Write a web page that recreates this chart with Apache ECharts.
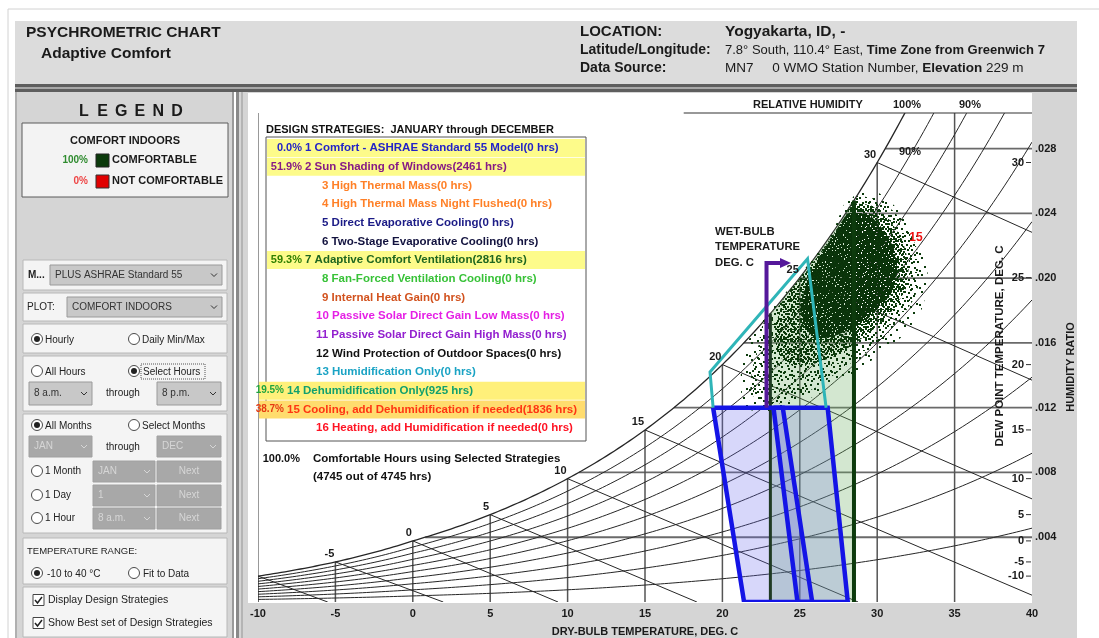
<!DOCTYPE html>
<html>
<head>
<meta charset="utf-8">
<title>Psychrometric Chart - Adaptive Comfort</title>
<script src="https://cdn.jsdelivr.net/npm/echarts/dist/echarts.min.js"></script>
<style>
  html, body { margin: 0; padding: 0; background: #ffffff; }
  #chart { width: 1099px; height: 638px; }
</style>
</head>
<body>
<div id="chart"></div>
<script>
// ---------------- chart values ----------------
const dryBulbTicks = [-10, -5, 0, 5, 10, 15, 20, 25, 30, 35, 40];
const humidityRatioTicks = [0.004, 0.008, 0.012, 0.016, 0.020, 0.024, 0.028];
const dewPointTicks = [30, 25, 20, 15, 10, 5, 0, -5, -10];
const rhCurves = [10, 20, 30, 40, 50, 60, 70, 80, 90, 100];
const wetBulbLines = [-10, -5, 0, 5, 10, 15, 20, 25, 30];
const wetBulbLabels = [-5, 0, 5, 10, 15, 20, 25, 30];

const strategyNames = [
  'Comfort - ASHRAE Standard 55 Model',
  'Sun Shading of Windows',
  'High Thermal Mass',
  'High Thermal Mass Night Flushed',
  'Direct Evaporative Cooling',
  'Two-Stage Evaporative Cooling',
  'Adaptive Comfort Ventilation',
  'Fan-Forced Ventilation Cooling',
  'Internal Heat Gain',
  'Passive Solar Direct Gain Low Mass',
  'Passive Solar Direct Gain High Mass',
  'Wind Protection of Outdoor Spaces',
  'Humidification Only',
  'Dehumidification Only',
  'Cooling, add Dehumidification if needed',
  'Heating, add Humidification if needed'
];
const strategyHours = [0, 2461, 0, 0, 0, 0, 2816, 0, 0, 0, 0, 0, 0, 925, 1836, 0];
const selectedStrategies = [1, 2, 7, 14, 15];
const totalHours = 4745;
const comfortableHours = 4745;
const comfortShares = [100, 0]; // comfortable / not comfortable, %

// zone outlines, [dry-bulb degC, humidity ratio kg/kg]
const comfortZoneA = [[19.4, 0.012], [23.9, 0.012], [25.8, 0], [21.4, 0]];
const comfortZoneB = [[23.3, 0.012], [26.8, 0.012], [28.1, 0], [24.85, 0]];
const dehumidZone = [[19.4, 0.012], [19.2, 0.0142], [25.5, 0.0212], [26.7, 0.012]];
const ventilationLimits = [23.1, 28.5];
const sunShadingArrow = [[22.85, 0.012], [22.85, 0.02093], [23.85, 0.02093]];

// hourly weather points: envelopes of the point cloud by density
const cloudFringe = [[28.3,0.02530],[30.0,0.02530],[31.6,0.02400],[32.9,0.02200],[33.3,0.01980],[32.8,0.01790],[31.6,0.01640],[30.2,0.01530],[28.6,0.01420],[26.8,0.01310],[24.9,0.01230],[23.0,0.01180],[21.4,0.01200],[21.2,0.01420],[21.7,0.01620],[22.5,0.01730],[24.0,0.01900],[25.5,0.02080],[27.0,0.02260]];
const cloudOuter = [[28.47,0.02506],[29.70,0.02494],[30.99,0.02420],[31.96,0.02309],[32.61,0.02173],[32.80,0.02019],[32.41,0.01877],[31.51,0.01753],[30.47,0.01636],[29.31,0.01543],[28.02,0.01457],[26.73,0.01370],[25.37,0.01290],[23.88,0.01228],[22.59,0.01230],[21.82,0.01290],[21.94,0.01440],[22.33,0.01586],[22.6,0.01712],[23.5,0.01812],[24.5,0.01930],[25.5,0.02051],[26.5,0.02179],[27.5,0.02314],[28.2,0.02420]];
const cloudMid = [[28.28,0.02461],[29.58,0.02450],[30.71,0.02370],[31.60,0.02240],[32.05,0.02080],[31.80,0.01926],[30.90,0.01790],[29.70,0.01679],[28.40,0.01586],[27.10,0.01512],[25.80,0.01470],[24.50,0.01460],[23.60,0.01525],[23.40,0.01679],[24.0,0.01880],[25.5,0.02050],[27.0,0.02250],[28.0,0.02390]];
const cloudCore = [[28.10,0.02400],[29.44,0.02395],[30.40,0.02300],[31.10,0.02180],[31.30,0.02040],[30.90,0.01900],[30.20,0.01830],[29.44,0.01753],[28.40,0.01690],[27.20,0.01640],[26.00,0.01630],[25.30,0.01700],[25.05,0.01830],[25.45,0.01970],[26.10,0.02110],[27.00,0.02240]];

// ---------------- psychrometrics (standard atmosphere) ----------------
const P_ATM = 101.325;
const W_MAX = 0.0302;
function pSat(t) {
  return t >= 0 ? 0.61094 * Math.exp(17.625 * t / (t + 243.04))
                : 0.61115 * Math.exp(22.452 * t / (272.55 + t));
}
function wAt(t, rh) { const pv = rh / 100 * pSat(t); return 0.622 * pv / (P_ATM - pv); }
function wSat(t) { return wAt(t, 100); }
function tSatOfW(w) {
  const pv = w * P_ATM / (0.622 + w);
  const a = Math.log(pv / 0.61094);
  return 243.04 * a / (17.625 - a);
}
function wWetBulb(t, twb) {
  const ws = wSat(twb);
  if (twb >= 0) return ((2501 - 2.326 * twb) * ws - 1.006 * (t - twb)) / (2501 + 1.86 * t - 4.186 * twb);
  return ((2830 - 0.24 * twb) * ws - 1.006 * (t - twb)) / (2830 + 1.86 * t - 2.1 * twb);
}
function tWetBulbDry(twb) {
  const ws = wSat(twb);
  return twb + (twb >= 0 ? (2501 - 2.326 * twb) : (2830 - 0.24 * twb)) * ws / 1.006;
}

// ---------------- helpers ----------------
const FF = '"Liberation Sans", Arial, Helvetica, sans-serif';
function txtStyle(str, font, fill, align, valign) {
  return { text: str, font: font, fill: fill, textAlign: align, align: align,
           textVerticalAlign: valign, verticalAlign: valign };
}
function dotPattern(size, dots, dot, color) {
  const c = document.createElement('canvas');
  c.width = size; c.height = size;
  const g = c.getContext('2d');
  g.fillStyle = color;
  dots.forEach(d => g.fillRect(d[0], d[1], dot, dot));
  return { image: c, repeat: 'repeat' };
}
function speckPattern(size, holes, color) {
  const c = document.createElement('canvas');
  c.width = size; c.height = size;
  const g = c.getContext('2d');
  g.fillStyle = color; g.fillRect(0, 0, size, size);
  holes.forEach(h => g.clearRect(h[0], h[1], h[2], h[3]));
  return { image: c, repeat: 'repeat' };
}
const DOT = '#0c3a0c';
const fringeFill = dotPattern(17, [[3,2],[12,6],[6,11],[15,14],[1,15],[9,0]], 2, DOT);
const sparseFill = dotPattern(13, [[1,2],[7,1],[11,6],[4,7],[9,10],[0,11],[5,12],[12,0]], 2, DOT);
const midFill = dotPattern(10, [[0,0],[3,1],[7,0],[5,3],[9,3],[1,4],[3,6],[7,6],[0,8],[5,8],[8,9],[2,9]], 2, DOT);
const coreFill = speckPattern(9, [[2,1,2,1],[6,0,1,2],[4,4,1,1],[0,5,2,1],[7,6,1,2],[3,7,2,1],[8,3,1,1],[1,2,1,1]], '#0a330a');

function polyPts(api, arr) { return arr.map(p => api.coord(p)); }
function shapeSeries(name, z, clip, build) {
  return {
    type: 'custom', name: name, coordinateSystem: 'cartesian2d', clip: clip, z: z, silent: true,
    data: [[0, 0]],
    renderItem: (params, api) => ({ type: 'group', children: build(api) })
  };
}
function pline(points, stroke, width) {
  return { type: 'polyline', shape: { points: points }, style: { stroke: stroke, lineWidth: width, fill: null } };
}

// ---------------- psychrometric construction lines ----------------
const gridSeries = shapeSeries('grid', 2, true, api => {
  const ch = [];
  const c = (t, w) => api.coord([t, w]);
  humidityRatioTicks.forEach(w => ch.push(pline([c(tSatOfW(w), w), c(40, w)], '#6a6a6a', 1.8)));
  dryBulbTicks.slice(0, -1).forEach(t => ch.push(pline([c(t, 0), c(t, Math.min(wSat(t), W_MAX))], '#555', 1.5)));
  ch.push(pline([c(-10, 0), c(-10, W_MAX)], '#555', 1.2));
  rhCurves.forEach(rh => {
    const pts = [];
    for (let t = -10; t <= 40.001; t += 0.25) {
      const w = wAt(t, rh);
      pts.push(c(t, w));
      if (w > W_MAX) break;
    }
    ch.push(pline(pts, '#262626', rh === 100 ? 1.3 : 1));
  });
  wetBulbLines.forEach(twb => {
    const tEnd = Math.min(40, tWetBulbDry(twb));
    ch.push(pline([c(twb, wSat(twb)), c(tEnd, Math.max(0, wWetBulb(tEnd, twb)))], '#262626', 1));
  });
  return ch;
});

const topLineSeries = shapeSeries('top', 2, false, api => {
  const a = api.coord([17.5, W_MAX]), b = api.coord([40, W_MAX]);
  return [pline([a, b], '#333', 1.2)];
});

// ---------------- strategy zones ----------------
const ventZoneSeries = shapeSeries('vent', 3, true, api => {
  const pts = [api.coord([ventilationLimits[0], 0])];
  for (let t = ventilationLimits[0]; t <= ventilationLimits[1] + 1e-6; t += 0.25) pts.push(api.coord([t, wSat(t)]));
  pts.push(api.coord([ventilationLimits[1], 0]));
  return [{ type: 'polygon', shape: { points: pts }, style: { fill: 'rgba(110,175,100,0.30)', stroke: null } }];
});

const comfortSeries = shapeSeries('comfort', 4, true, api => [
  { type: 'polygon', shape: { points: polyPts(api, comfortZoneA) }, style: { fill: 'rgba(100,100,235,0.26)', stroke: null } },
  { type: 'polygon', shape: { points: polyPts(api, comfortZoneB) }, style: { fill: 'rgba(100,100,235,0.20)', stroke: null } }
]);

const cloudSeries = shapeSeries('cloud', 5, true, api => [
  { type: 'polygon', shape: { points: polyPts(api, cloudFringe), smooth: 0.2 }, style: { fill: fringeFill, stroke: null } },
  { type: 'polygon', shape: { points: polyPts(api, cloudOuter), smooth: 0.15 }, style: { fill: sparseFill, stroke: null } },
  { type: 'polygon', shape: { points: polyPts(api, cloudMid), smooth: 0.15 }, style: { fill: midFill, stroke: null } },
  { type: 'polygon', shape: { points: polyPts(api, cloudCore), smooth: 0.15 }, style: { fill: coreFill, stroke: null } }
]);

const outlineSeries = shapeSeries('outlines', 6, true, api => {
  const ch = [];
  ventilationLimits.forEach((t, i) => ch.push(pline([api.coord([t, 0]), api.coord([t, wSat(t)])], i ? '#0d3b0d' : '#1f3a24', i ? 4 : 3)));
  ch.push(pline(polyPts(api, comfortZoneA.concat([comfortZoneA[0]])), '#1414e6', 4.5));
  ch.push(pline(polyPts(api, comfortZoneB.concat([comfortZoneB[0]])), '#1414e6', 4.5));
  ch.push(pline(polyPts(api, dehumidZone), '#2fb5b8', 3));
  const ap = polyPts(api, sunShadingArrow);
  ch.push(pline(ap, '#55189a', 4));
  const e = ap[ap.length - 1];
  ch.push({ type: 'polygon', shape: { points: [[e[0] - 2, e[1] - 5], [e[0] + 9, e[1]], [e[0] - 2, e[1] + 5]] }, style: { fill: '#55189a' } });
  return ch;
});

// ---------------- labels drawn in data space ----------------
const labelSeries = shapeSeries('labels', 8, false, api => {
  const ch = [];
  const f = 'bold 11px ' + FF;
  wetBulbLabels.forEach(t => {
    const p = api.coord([t, wSat(t)]);
    ch.push({ type: 'text', x: p[0] - 1, y: p[1] - 2, style: txtStyle(String(t), f, '#1a1a1a', 'right', 'bottom') });
  });
  dewPointTicks.forEach(td => {
    const p = api.coord([40, wSat(td)]);
    ch.push(pline([[p[0] - 6, p[1]], [p[0] - 1, p[1]]], '#333', 1));
    ch.push({ type: 'text', x: p[0] - 8, y: p[1], style: txtStyle(String(td), f, '#1a1a1a', 'right', 'middle') });
  });
  const r = api.coord([32.5, 0.0225]);
  ch.push({ type: 'text', x: r[0], y: r[1], style: txtStyle('15', 'bold 12px ' + FF, '#ee1111', 'center', 'middle') });
  return ch;
});

// ---------------- page furniture ----------------
const G = [];
function rect(x, y, w, h, fill, stroke, lw, z, dash) {
  G.push({ type: 'rect', shape: { x: x, y: y, width: w, height: h }, silent: true, z: z || 0,
           style: { fill: fill || null, stroke: stroke || null, lineWidth: lw || 1, lineDash: dash || null } });
}
function text(x, y, str, font, fill, align, z) {
  G.push({ type: 'text', x: x, y: y, silent: true, z: z || 10, style: txtStyle(str, font, fill || '#111', align || 'left', 'middle') });
}
function rtext(x, y, str, rich, z) {
  G.push({ type: 'text', x: x, y: y, silent: true, z: z || 10,
           style: { text: str, rich: rich, textAlign: 'left', align: 'left', textVerticalAlign: 'middle', verticalAlign: 'middle' } });
}
function radio(x, y, on) {
  G.push({ type: 'circle', shape: { cx: x, cy: y, r: 5.5 }, silent: true, z: 9, style: { fill: '#fff', stroke: '#4a4a4a', lineWidth: 1 } });
  if (on) G.push({ type: 'circle', shape: { cx: x, cy: y, r: 3 }, silent: true, z: 10, style: { fill: '#222' } });
}
function checkbox(x, y) {
  rect(x, y - 5.5, 11, 11, '#fff', '#444', 1, 9);
  G.push({ type: 'polyline', shape: { points: [[x + 2, y], [x + 4.5, y + 3], [x + 9, y - 3]] }, silent: true, z: 10, style: { stroke: '#222', lineWidth: 1.5, fill: null } });
}
function dropdown(x, y, w, h, label, enabled, center) {
  rect(x, y, w, h, enabled ? '#c8c8c8' : '#a8a8a8', enabled ? '#9a9a9a' : '#a0a0a0', 1, 8);
  const col = enabled ? '#333' : '#d6d6d6';
  if (center) text(x + w / 2, y + h / 2, label, '10px ' + FF, col, 'center');
  else {
    text(x + 5, y + h / 2, label, '10px ' + FF, col, 'left');
    G.push({ type: 'polyline', shape: { points: [[x + w - 11, y + h / 2 - 1.5], [x + w - 8, y + h / 2 + 1.5], [x + w - 5, y + h / 2 - 1.5]] }, silent: true, z: 10, style: { stroke: col, lineWidth: 1, fill: null } });
  }
}
const F10 = '10px ' + FF;
const F105 = '10.5px ' + FF;

// outer frame, header
rect(8, 9, 1100, 640, null, '#d2d2d2', 1, 0);
rect(15, 21, 1062, 63, '#dcdcdc', null, 1, 1);
rect(15, 84, 1062, 8, '#5e5e5e', null, 1, 1);
rect(15, 87, 1062, 2, '#a8a8a8', null, 1, 1);
text(26, 33, 'PSYCHROMETRIC CHART', 'bold 15.5px ' + FF, '#1a1a1a');
text(41, 54, 'Adaptive Comfort', 'bold 15.5px ' + FF, '#1a1a1a');
text(580, 32, 'LOCATION:', 'bold 15px ' + FF, '#1a1a1a');
text(725, 32, 'Yogyakarta, ID, -', 'bold 15.5px ' + FF, '#1a1a1a');
text(580, 50, 'Latitude/Longitude:', 'bold 14px ' + FF, '#1a1a1a');
text(580, 68, 'Data Source:', 'bold 14px ' + FF, '#1a1a1a');
const hdr2 = { r: { font: '13px ' + FF, fill: '#1a1a1a' }, b: { font: 'bold 13px ' + FF, fill: '#1a1a1a' } };
const hdr3 = { r: { font: '13.5px ' + FF, fill: '#1a1a1a' }, b: { font: 'bold 13.5px ' + FF, fill: '#1a1a1a' } };
rtext(725, 50, '{r|7.8° South, 110.4° East, }{b|Time Zone from Greenwich 7}', hdr2);
rtext(725, 68, '{r|MN7     0 WMO Station Number, }{b|Elevation}{r| 229 m}', hdr3);

// left control panel
rect(15, 92, 219, 546, '#d5d5d5', null, 1, 1);
rect(15, 92, 2, 546, '#b0b0b0', null, 1, 2);
rect(232, 92, 2, 546, '#9a9a9a', null, 1, 2);
'LEGEND'.split('').forEach((ch, i) => text(84 + i * 18.6, 112, ch, 'bold 16px ' + FF, '#1a1a1a', 'center'));
rect(22, 123, 206, 74, '#f3f3f3', '#5a5a5a', 1, 3);
text(125, 141, 'COMFORT INDOORS', 'bold 11px ' + FF, '#1a1a1a', 'center');
text(88, 160, comfortShares[0] + '%', 'bold 10px ' + FF, '#2e8b2e', 'right');
rect(96, 154, 13, 13, '#0b3a0b', '#222', 1, 5);
text(112, 160, 'COMFORTABLE', 'bold 11px ' + FF, '#1a1a1a');
text(88, 181, comfortShares[1] + '%', 'bold 10px ' + FF, '#ee4444', 'right');
rect(96, 175, 13, 13, '#e00000', '#333', 1, 5);
text(112, 181, 'NOT COMFORTABLE', 'bold 11px ' + FF, '#1a1a1a');

[[23, 260, 30], [23, 293, 28], [23, 324, 29], [23, 356, 55], [23, 414, 119], [23, 538, 46], [23, 587, 50]]
  .forEach(b => rect(b[0], b[1], 204, b[2], '#f4f4f4', '#b8b8b8', 1, 3));
text(28, 275, 'M...', 'bold 10px ' + FF, '#222');
dropdown(50, 265, 172, 20, 'PLUS ASHRAE Standard 55', true);
text(27, 307, 'PLOT:', F10, '#222');
dropdown(67, 297, 155, 20, 'COMFORT INDOORS', true);
radio(37, 339, true); text(45, 340, 'Hourly', F10, '#222');
radio(134, 339, false); text(142, 340, 'Daily Min/Max', F10, '#222');
radio(37, 371, false); text(45, 372, 'All Hours', F10, '#222');
radio(134, 371, true); text(143, 372, 'Select Hours', F10, '#222');
rect(141, 364, 64, 15, null, '#555', 1, 9, [1, 1]);
dropdown(29, 382, 63, 23, '8 a.m.', true);
text(106, 393, 'through', F10, '#222');
dropdown(157, 382, 64, 23, '8 p.m.', true);
radio(37, 425, true); text(45, 426, 'All Months', F10, '#222');
radio(134, 425, false); text(142, 426, 'Select Months', F10, '#222');
dropdown(29, 436, 63, 21, 'JAN', false);
text(106, 447, 'through', F10, '#222');
dropdown(157, 436, 64, 21, 'DEC', false);
radio(37, 471, false); text(45, 471, '1 Month', F10, '#222');
dropdown(93, 461, 62, 21, 'JAN', false); dropdown(157, 461, 64, 21, 'Next', false, true);
radio(37, 495, false); text(45, 495, '1 Day', F10, '#222');
dropdown(93, 485, 62, 21, '1', false); dropdown(157, 485, 64, 21, 'Next', false, true);
radio(37, 518, false); text(45, 518, '1 Hour', F10, '#222');
dropdown(93, 508, 62, 21, '8 a.m.', false); dropdown(157, 508, 64, 21, 'Next', false, true);
text(27, 551, 'TEMPERATURE RANGE:', '9.5px ' + FF, '#222');
radio(37, 573, true); text(47, 574, '-10 to 40 °C', F10, '#222');
radio(134, 573, false); text(143, 574, 'Fit to Data', F10, '#222');
checkbox(33, 600); text(48, 600, 'Display Design Strategies', F105, '#222');
checkbox(33, 623); text(48, 623, 'Show Best set of Design Strategies', F105, '#222');

// chart panel
rect(236, 92, 841, 546, '#d5d5d5', null, 1, 0);
rect(236, 92, 3, 546, '#8a8a8a', null, 1, 1);
rect(241, 92, 2, 546, '#b4b4b4', null, 1, 1);
rect(248, 93, 784, 510, '#ffffff', null, 1, 1);

// titles around the plot
const B11 = 'bold 11px ' + FF;
text(753, 105, 'RELATIVE HUMIDITY', B11, '#1a1a1a');
text(907, 105, '100%', B11, '#1a1a1a', 'center');
text(970, 105, '90%', B11, '#1a1a1a', 'center');
text(910, 152, '90%', B11, '#1a1a1a', 'center', 9);
text(715, 232, 'WET-BULB', 'bold 11.3px ' + FF, '#1a1a1a');
text(715, 247, 'TEMPERATURE', 'bold 11.3px ' + FF, '#1a1a1a');
text(715, 263, 'DEG. C', 'bold 11.3px ' + FF, '#1a1a1a');
G.push({ type: 'text', x: 1000, y: 346, rotation: Math.PI / 2, silent: true, z: 10,
         style: txtStyle('DEW POINT TEMPERATURE, DEG. C', 'bold 11.5px ' + FF, '#1a1a1a', 'center', 'middle') });
G.push({ type: 'text', x: 1071, y: 367, rotation: Math.PI / 2, silent: true, z: 10,
         style: txtStyle('HUMIDITY RATIO', B11, '#1a1a1a', 'center', 'middle') });

// design strategy list
const rowColors = ['#2323c8', '#861b86', '#ff8027', '#ff8027', '#1b1b86', '#12123e', '#1f661f', '#38c238',
                   '#d2521e', '#e51fe5', '#9320cf', '#111111', '#1aa3c4', '#12a06e', '#ff3512', '#ff1424'];
const pctColors = { 1: '#2323c8', 2: '#861b86', 7: '#2f7f00', 14: '#1fa33f', 15: '#e63a12' };
text(266, 130, 'DESIGN STRATEGIES:  JANUARY through DECEMBER', B11, '#111', 'left', 12);
rect(266, 137, 320, 304, '#ffffff', '#555', 1, 11);
const rowY = i => 148 + i * 18.67;
selectedStrategies.forEach(n => {
  const late = n >= 14;
  rect(late ? 259 : 267, rowY(n - 1) - 9, late ? 326 : 318, 18, late ? (n === 15 ? '#ffdc6e' : '#fff07a') : '#fdfb8a', null, 1, 11);
});
const ROWF = 'bold 11.5px ' + FF;
strategyNames.forEach((name, i) => {
  const n = i + 1;
  const sel = selectedStrategies.indexOf(n) >= 0;
  const two = n >= 10;
  const x = sel ? (two ? 287 : 305) : (two ? 316 : 322);
  text(x, rowY(i), n + ' ' + name + '(' + strategyHours[i] + ' hrs)', ROWF, rowColors[i], 'left', 13);
  if (sel) text(x - 3, rowY(i), (strategyHours[i] / totalHours * 100).toFixed(1) + '%', (two ? 'bold 10px ' : 'bold 11px ') + FF, pctColors[n], 'right', 13);
});
text(300, 459, (comfortableHours / totalHours * 100).toFixed(1) + '%', 'bold 11px ' + FF, '#111', 'right', 12);
text(313, 459, 'Comfortable Hours using Selected Strategies', ROWF, '#111', 'left', 12);
text(313, 477, '(' + comfortableHours + ' out of ' + totalHours + ' hrs)', ROWF, '#111', 'left', 12);

// ---------------- chart ----------------
const chart = echarts.init(document.getElementById('chart'), null, { renderer: 'canvas', width: 1099, height: 638 });
chart.setOption({
  animation: false,
  backgroundColor: '#ffffff',
  graphic: { elements: G },
  grid: { left: 258, top: 113, width: 774, height: 489, containLabel: false, outerBoundsMode: 'none' },
  xAxis: {
    type: 'value', min: dryBulbTicks[0], max: dryBulbTicks[dryBulbTicks.length - 1], interval: 5,
    axisLine: { show: false }, axisTick: { show: false }, splitLine: { show: false },
    axisLabel: { color: '#1a1a1a', fontWeight: 'bold', fontSize: 11, fontFamily: FF, margin: 6 },
    name: 'DRY-BULB TEMPERATURE, DEG. C', nameLocation: 'middle', nameGap: 24,
    nameTextStyle: { color: '#1a1a1a', fontWeight: 'bold', fontSize: 11, fontFamily: FF }
  },
  yAxis: {
    type: 'value', position: 'right', min: 0, max: W_MAX, interval: 0.004,
    axisLine: { show: false }, axisTick: { show: false }, splitLine: { show: false },
    axisLabel: {
      color: '#1a1a1a', fontWeight: 'bold', fontSize: 11, fontFamily: FF, margin: 3,
      formatter: v => {
        const k = humidityRatioTicks.findIndex(t => Math.abs(t - v) < 1e-7);
        return k < 0 ? '' : '.' + String(Math.round(humidityRatioTicks[k] * 1000)).padStart(3, '0');
      }
    }
  },
  series: [gridSeries, topLineSeries, ventZoneSeries, comfortSeries, cloudSeries, outlineSeries, labelSeries]
});
</script>
</body>
</html>
